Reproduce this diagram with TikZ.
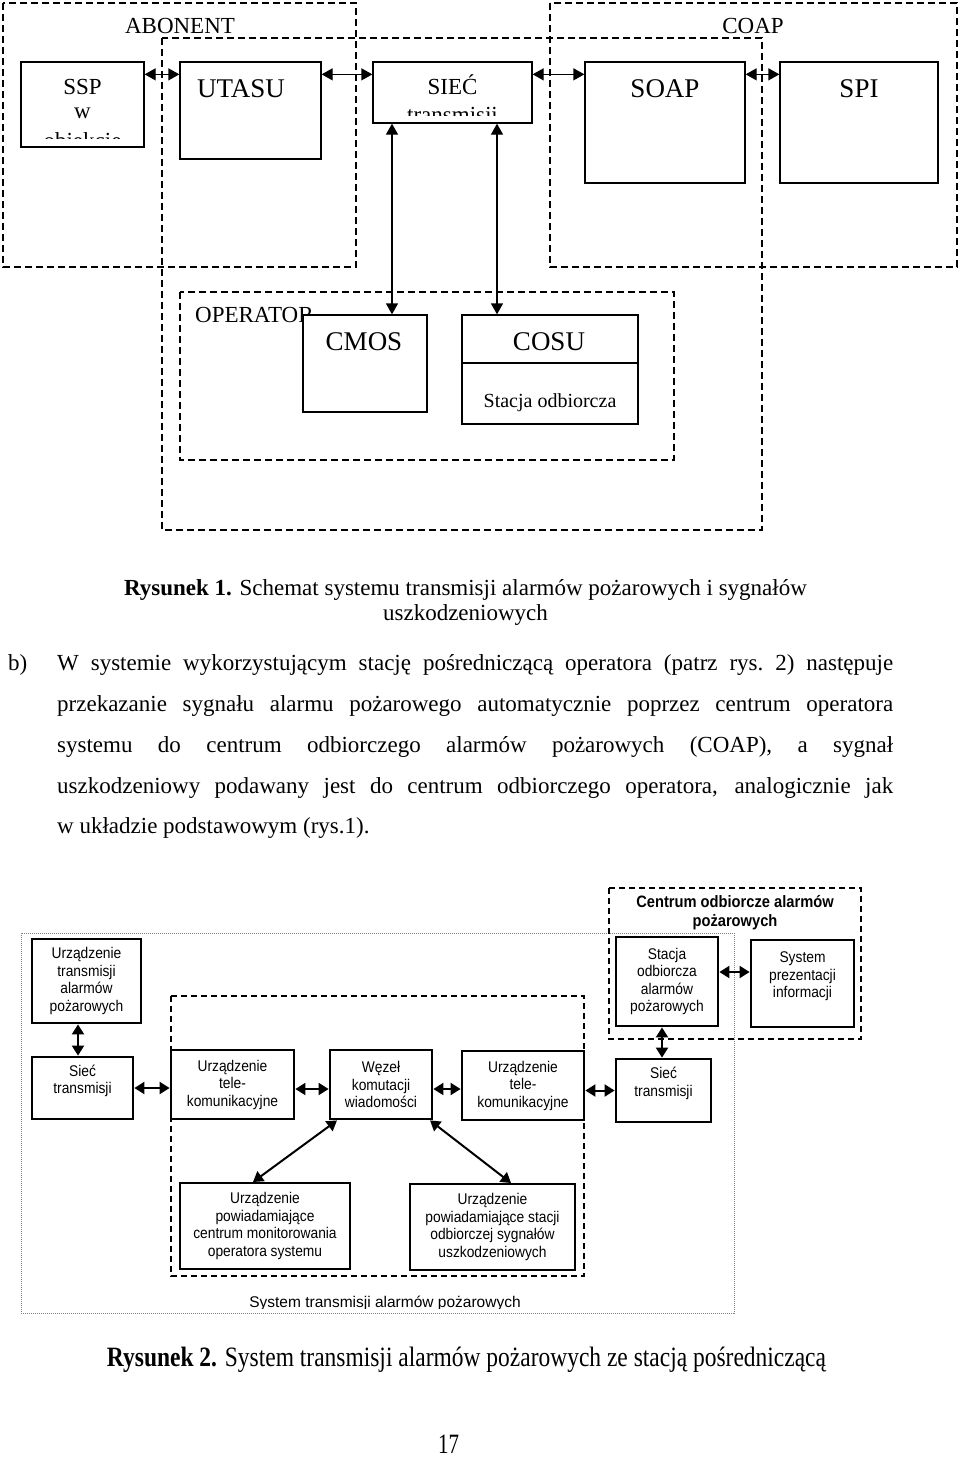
\documentclass[tikz,border=0pt]{standalone}
\usepackage{fontspec}
\usepackage{graphicx}
\setmainfont{Liberation Serif}
\setsansfont{Liberation Sans}
\newfontfamily\rysfont{Liberation Sans}[FakeStretch=0.89]
\usetikzlibrary{arrows.meta}

\begin{document}
\begin{tikzpicture}[x=1pt,y=-1pt,
    grupa/.style={draw, line width=1.4pt, dash pattern=on 7pt off 4pt},
    blok/.style={draw, line width=1.3pt, fill=white, inner sep=0pt},
    strz/.style={line width=1.3pt, {Triangle[length=11pt,width=12pt]}-{Triangle[length=11pt,width=12pt]}},
    opis/.style={inner sep=0pt, font=\fontsize{23}{24}\selectfont},
    duzy/.style={inner sep=0pt, font=\fontsize{27}{30}\selectfont},
    kreski/.style={draw, line width=1.8pt, dash pattern=on 6pt off 4pt},
    kropki/.style={draw, gray, line width=1pt, dash pattern=on 1pt off 1pt},
    gblok/.style={draw, line width=2.8pt, fill=white, inner sep=0pt, align=center,
        font=\rysfont\fontsize{15.5}{17.5}\selectfont},
    cblok/.style={gblok, line width=2pt},
    gstrz/.style={line width=2pt, {Triangle[length=10pt,width=12pt]}-{Triangle[length=10pt,width=12pt]}}
]
    \useasboundingbox (0,0) rectangle (960,1457);

    % --- rysunek 1
    \draw[grupa] (3,3) rectangle (356,267);
    \draw[grupa] (550,3) rectangle (957,267);
    \draw[grupa] (162,38) rectangle (762,530);
    \draw[grupa] (180,292) rectangle (674,460);

    \node[opis, anchor=base] (abonent) at (180,33) {ABONENT};
    \node[opis, anchor=base] (coap) at (753,33) {COAP};
    \node[opis, anchor=base west] (operator) at (195,322) {OPERATOR};

    \node[blok, minimum width=123pt, minimum height=85pt] (ssp) at (82.5,104.5) {};
    \node[blok, minimum width=141pt, minimum height=97pt] (utasu) at (250.5,110.5) {};
    \node[blok, minimum width=159pt, minimum height=61pt] (siec) at (452.5,92.5) {};
    \node[blok, minimum width=160pt, minimum height=121pt] (soap) at (665,122.5) {};
    \node[blok, minimum width=158pt, minimum height=121pt] (spi) at (859,122.5) {};
    \node[blok, minimum width=124pt, minimum height=97pt] (cmos) at (365,363.5) {};
    \node[blok, minimum width=176pt, minimum height=109pt] (cosu) at (550,369.5) {};
    \draw[line width=1.3pt] ([yshift=6.5pt]cosu.west) -- ([yshift=6.5pt]cosu.east);

    % ostatnia linia tekstu wyznacza base
    \begin{scope}
        \clip (ssp.north west) rectangle ([yshift=9pt]ssp.south east);
        \node[opis, anchor=base, align=center] (sspt) at (82.5,148) {SSP\\w\\[6pt]obiekcie};
    \end{scope}
    \begin{scope}
        \clip (siec.north west) rectangle ([yshift=8pt]siec.south east);
        \node[opis, anchor=base, align=center] (siect) at (452.5,122.5) {SIEĆ\\[4.5pt]transmisji};
    \end{scope}
    \node[duzy, anchor=base] (utasut) at (241,97) {UTASU};
    \node[duzy, anchor=base] (soapt) at (665,97) {SOAP};
    \node[duzy, anchor=base] (spit) at (859,97) {SPI};
    \node[duzy, anchor=base] (cmost) at (364,350) {CMOS};
    \node[duzy, anchor=base] (cosut) at (549,350) {COSU};
    \node[inner sep=0pt, anchor=base, font=\fontsize{20}{22}\selectfont] (stacjat) at (550,407) {Stacja odbiorcza};

    \draw[strz] ([yshift=-13pt]ssp.north east) -- ([yshift=-13pt]utasu.north west);
    \draw[strz] ([yshift=-13pt]utasu.north east) -- ([yshift=-13pt]siec.north west);
    \draw[strz] ([yshift=-13pt]siec.north east) -- ([yshift=-13pt]soap.north west);
    \draw[strz] ([yshift=-13pt]soap.north east) -- ([yshift=-13pt]spi.north west);
    \draw[strz] ([xshift=-60.5pt]siec.south) -- ([xshift=27pt]cmos.north);
    \draw[strz] ([xshift=44.5pt]siec.south) -- ([xshift=-53pt]cosu.north);

    % --- podpis i tekst
    \node[opis, anchor=base] (pod1) at (465.5,595) {\textbf{Rysunek 1.} Schemat systemu transmisji alarmów pożarowych i sygnałów};
    \node[opis, anchor=base] (pod1b) at (465.5,620) {uszkodzeniowych};

    \node[opis, anchor=base west] (pkt) at (8,670) {b)};
    \node[opis, anchor=base west] (w1) at (57,670) {\makebox[836pt][s]{W systemie wykorzystującym stację pośredniczącą operatora (patrz rys.\ 2) następuje}};
    \node[opis, anchor=base west] (w2) at (57,711) {\makebox[836pt][s]{przekazanie sygnału alarmu pożarowego automatycznie poprzez centrum operatora}};
    \node[opis, anchor=base west] (w3) at (57,752) {\makebox[836pt][s]{systemu do centrum odbiorczego alarmów pożarowych (COAP), a sygnał}};
    \node[opis, anchor=base west] (w4) at (57,793) {\makebox[836pt][s]{uszkodzeniowy podawany jest do centrum odbiorczego operatora, analogicznie jak}};
    \node[opis, anchor=base west] (w5) at (57,833) {w układzie podstawowym (rys.1).};

    % --- rysunek 2
    \draw[kropki] (21,933) rectangle (734,1313);
    \draw[kreski] (609,888) rectangle (861,1039);
    \draw[kreski] (171,996) rectangle (584,1276);

    \node[inner sep=0pt, align=center, font=\rysfont\bfseries\fontsize{16.5}{19}\selectfont] (coapt) at (735,913) {Centrum odbiorcze alarmów\\pożarowych};

    \node[gblok, minimum width=109pt, minimum height=84pt] (uta) at (86.5,981) {Urządzenie\\transmisji\\alarmów\\pożarowych};
    \node[gblok, minimum width=101pt, minimum height=62pt] (lsiec) at (82.5,1088) {Sieć\\transmisji\\\phantom{x}};
    \node[gblok, minimum width=123pt, minimum height=69pt] (ltele) at (232.5,1084.5) {Urządzenie\\tele-\\komunikacyjne};
    \node[gblok, minimum width=102pt, minimum height=69pt] (wezel) at (381,1084.5) {Węzeł\\komutacji\\wiadomości};
    \node[gblok, minimum width=122pt, minimum height=69pt] (rtele) at (523,1085.5) {Urządzenie\\tele-\\komunikacyjne};
    \node[gblok, minimum width=95pt, minimum height=63pt] (rsiec) at (663.5,1090.5) {Sieć\\transmisji\\\phantom{x}};
    \node[gblok, minimum width=102pt, minimum height=89pt] (soa) at (667,981.5) {Stacja\\odbiorcza\\alarmów\\pożarowych};
    \node[gblok, minimum width=103pt, minimum height=87pt] (spinf) at (802.5,983.5) {System\\prezentacji\\informacji\\\phantom{x}};
    \node[cblok, minimum width=170pt, minimum height=86pt] (upcm) at (265,1226) {Urządzenie\\powiadamiające\\centrum monitorowania\\operatora systemu};
    \node[cblok, minimum width=165pt, minimum height=86pt] (upso) at (492.5,1227) {Urządzenie\\powiadamiające stacji\\odbiorczej sygnałów\\uszkodzeniowych};

    \begin{scope}
        \clip (21,1280) rectangle (734,1308);
        \node[inner sep=0pt, anchor=base, font=\sffamily\fontsize{15.5}{18}\selectfont] (sta) at (385,1307) {System transmisji alarmów pożarowych};
    \end{scope}

    \draw[gstrz] ([xshift=-8.5pt]uta.south) -- ([xshift=-4.5pt]lsiec.north);
    \draw[gstrz] (lsiec.east) -- (lsiec.east -| ltele.west);
    \draw[gstrz] ([yshift=-4.5pt]ltele.east) -- ([yshift=-4.5pt]wezel.west);
    \draw[gstrz] ([yshift=-4.5pt]wezel.east) -- ([yshift=-4.5pt]wezel.east -| rtele.west);
    \draw[gstrz] (rsiec.west -| rtele.east) -- (rsiec.west);
    \draw[gstrz] ([xshift=-5pt]soa.south) -- ([xshift=-5pt]soa.south |- rsiec.north);
    \draw[gstrz] ([yshift=9.5pt]soa.east) -- ([yshift=9.5pt]soa.east -| spinf.west);
    \draw[gstrz] ([xshift=-44pt]wezel.south) -- ([xshift=-12pt]upcm.north);
    \draw[gstrz] ([xshift=49pt]wezel.south) -- ([xshift=18.5pt]upso.north);

    \node[inner sep=0pt, anchor=base, font=\fontsize{28}{30}\selectfont] (pod2) at (466.5,1366) {\resizebox{719pt}{\height}{\textbf{Rysunek 2.} System transmisji alarmów pożarowych ze stacją pośredniczącą}};
    \node[inner sep=0pt, anchor=base, font=\fontsize{28}{30}\selectfont] (strona) at (448.5,1453) {\resizebox{21pt}{\height}{17}};
\end{tikzpicture}
\end{document}
